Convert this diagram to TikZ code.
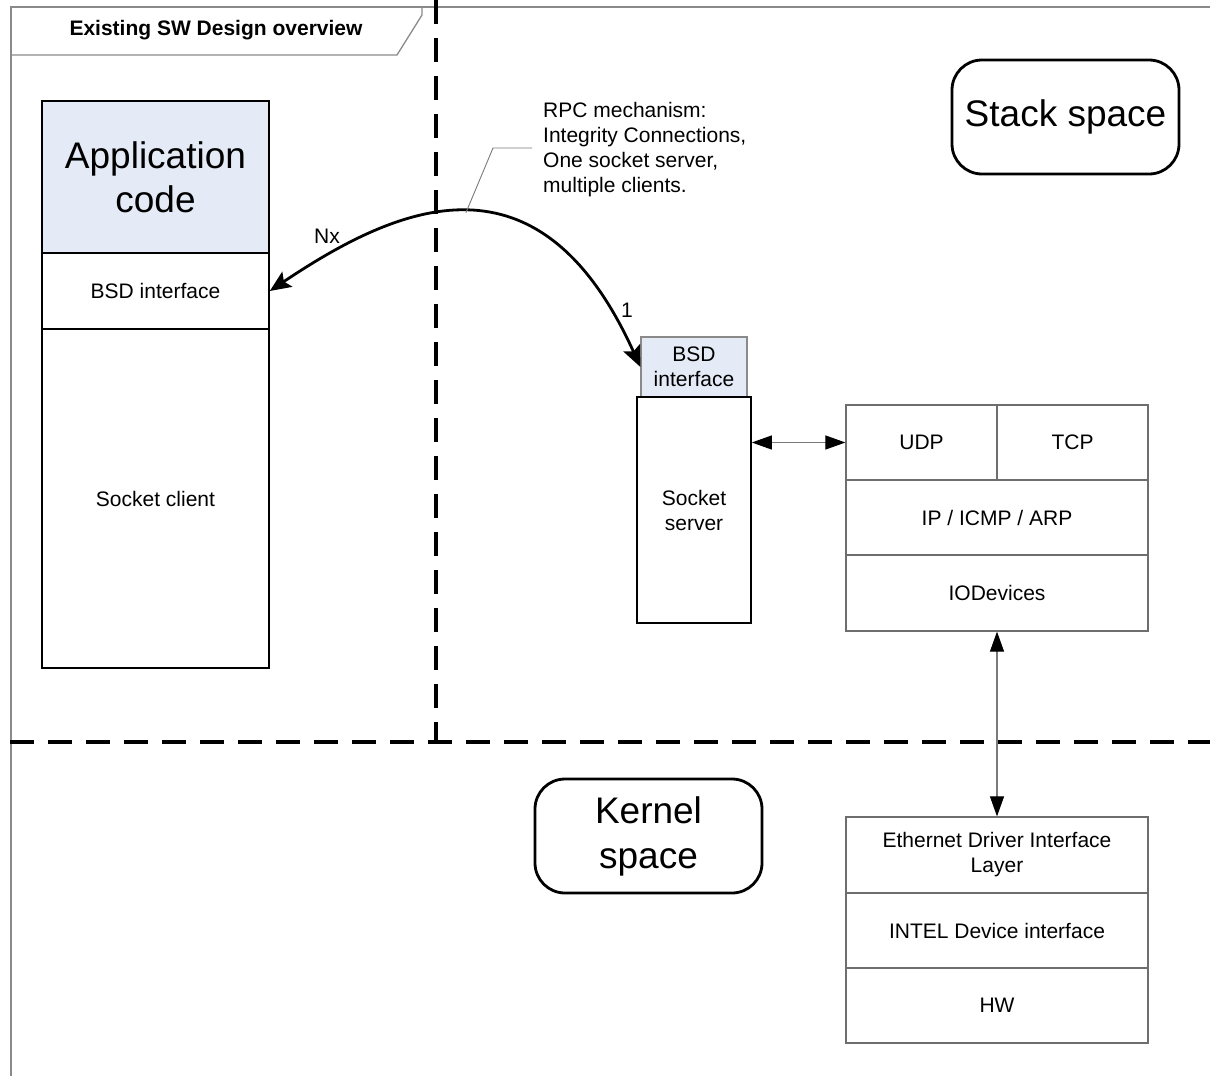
\documentclass[tikz,border=0pt]{standalone}
\usepackage{fontspec}
\setmainfont{Liberation Sans}
\usetikzlibrary{arrows.meta}

\definecolor{appblue}{HTML}{E4EBF6}
\definecolor{framegray}{HTML}{8A8A8A}
\definecolor{laygray}{HTML}{6E6E6E}
\definecolor{linegray}{HTML}{7A7A7A}

\begin{document}
\begin{tikzpicture}[x=1pt,y=-1pt,
  lbl/.style={font=\fontsize{21}{25}\selectfont, align=center},
  blk/.style={draw=black, line width=1.6pt, inner sep=0pt, lbl},
  lay/.style={draw=laygray, line width=1.2pt, inner sep=0pt, lbl},
  zone/.style={draw=black, line width=2.8pt, rounded corners=30pt, inner sep=0pt,
    minimum width=227pt, minimum height=114pt, align=center,
    font=\fontsize{37}{45}\selectfont},
  divider/.style={line width=3.5pt, dash pattern=on 24pt off 14pt},
  tipthin/.tip={Triangle[length=20pt,width=14pt,color=black]},
  tipthick/.tip={Stealth[length=21pt,width=18pt,inset=4pt]},
  thinarrow/.style={draw=linegray, line width=1.1pt, tipthin-tipthin}
]
\useasboundingbox (0,0) rectangle (1210,1076);

% page frame and title tab
\draw[framegray, line width=1.3pt] (11,1076) -- (11,7) -- (1210,7);
\draw[framegray, line width=1.3pt] (11,55) -- (397,55) -- (422,15) -- (422,7);
\node[font=\bfseries\fontsize{21}{25}\selectfont] (title) at (216,30) {Existing SW Design overview};

% space dividers
\draw[divider] (436,0) -- (436,742);
\draw[divider] (10,742) -- (1210,742);

% application side
\node[blk, fill=appblue, minimum width=227pt, minimum height=152pt,
  font=\fontsize{37}{44}\selectfont] (appcode) at (155.5,177) {Application\\code};
\node[blk, minimum width=227pt, minimum height=76pt] (appbsd) at (155.5,291) {BSD interface};
\node[blk, minimum width=227pt, minimum height=339pt] (appclient) at (155.5,498.5) {Socket client};

% zone labels
\node[zone] (stackzone) at (1065.5,117) {Stack space};
\node[zone] (kernelzone) at (648.5,836) {Kernel\\space};

% socket server
\node[lay, draw=framegray, fill=appblue, minimum width=106pt, minimum height=60pt] (srvbsd) at (694,367) {BSD\\interface};
\node[blk, minimum width=114pt, minimum height=226pt] (srvbox) at (694,510) {Socket\\server};

% network stack
\node[lay, minimum width=151pt, minimum height=75pt] (udp) at (921.5,442.5) {UDP};
\node[lay, minimum width=151pt, minimum height=75pt] (tcp) at (1072.5,442.5) {TCP};
\node[lay, minimum width=302pt, minimum height=75pt] (ip) at (997,517.5) {IP / ICMP / ARP};
\node[lay, minimum width=302pt, minimum height=76pt] (iodev) at (997,593) {IODevices};

% driver stack
\node[lay, minimum width=302pt, minimum height=76pt] (eth) at (997,855) {Ethernet Driver Interface\\Layer};
\node[lay, minimum width=302pt, minimum height=75pt] (intel) at (997,930.5) {INTEL Device interface};
\node[lay, minimum width=302pt, minimum height=75pt] (hw) at (997,1005.5) {HW};

% connectors
\draw[thinarrow] (srvbox.east |- udp) -- (udp.west);
\draw[thinarrow] (iodev.south) -- (eth.north);

\draw[line width=2.8pt, tipthick-tipthick] (appbsd.east)
  .. controls (399.5,204) and (539.5,144) .. (srvbsd.west)
  coordinate[pos=0.5] (peak);

\node[lbl] (nx) at (327,236) {Nx};
\node[lbl] (one) at (627,310) {1};

% RPC callout
\coordinate (callbend) at (493,148);
\coordinate (callend) at (532,148);
\draw[linegray, line width=0.9pt] (peak) -- (callbend) -- (callend);
\node[font=\fontsize{21}{25}\selectfont, align=left, anchor=north west, inner sep=0pt]
  (rpcnote) at (543,102) {RPC mechanism:\\Integrity Connections,\\One socket server,\\multiple clients.};
\end{tikzpicture}
\end{document}
